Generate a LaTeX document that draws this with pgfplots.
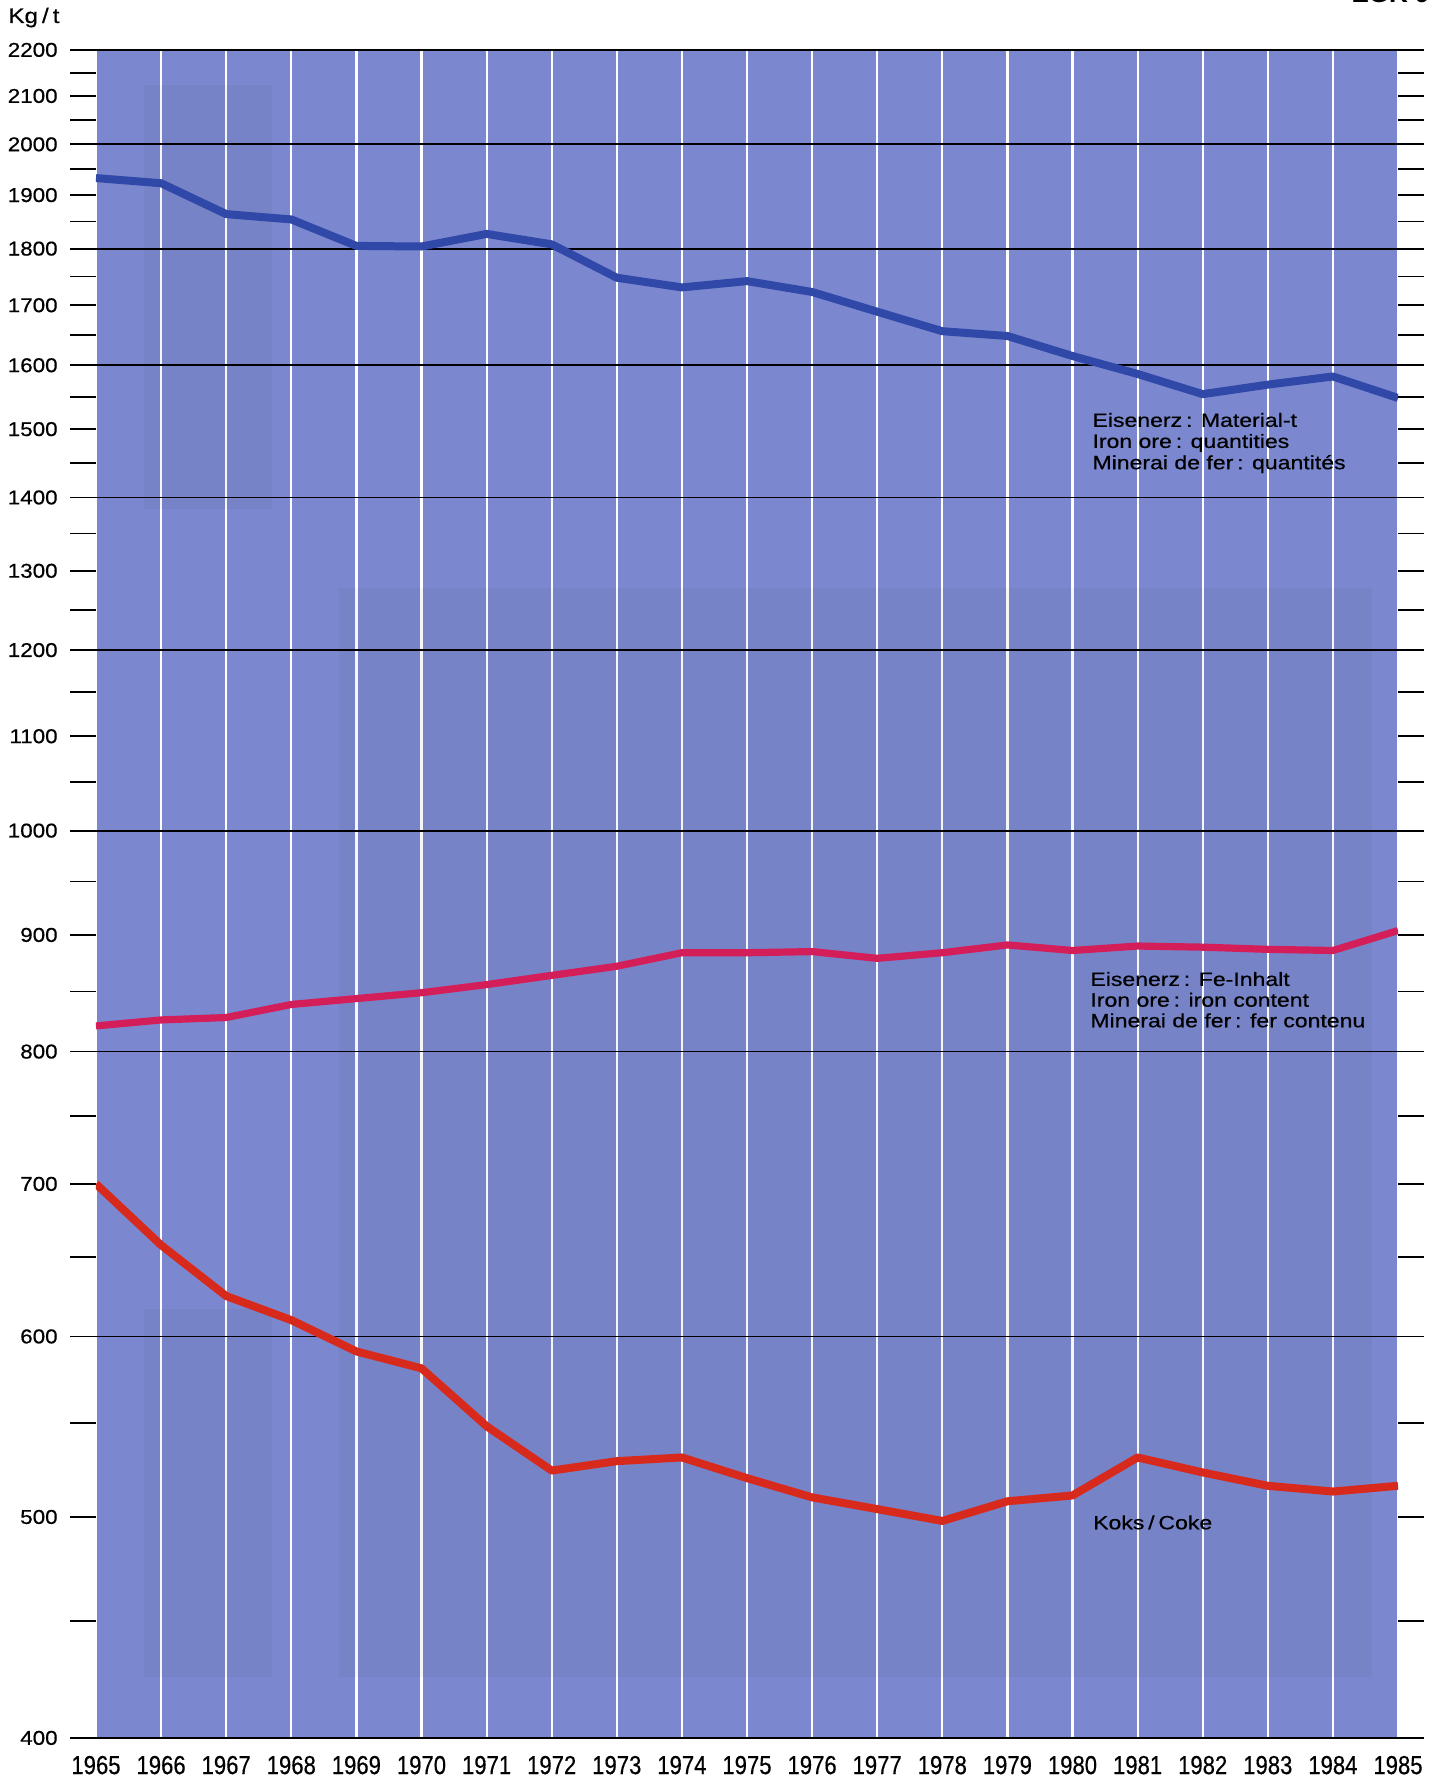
\documentclass[border=0pt]{standalone}
\usepackage{pgfplots}
\pgfplotsset{compat=1.18}
\usepackage{fontspec}
\setmainfont{Liberation Sans}[FakeBold=0.5]
\newfontfamily\labfont{Liberation Sans}[FakeBold=0.5]
\newfontfamily\boldlab{Liberation Sans Bold}
\definecolor{bgblue}{RGB}{123,136,207}
\definecolor{lblue}{RGB}{48,72,168}
\definecolor{lpink}{RGB}{212,30,90}
\definecolor{lred}{RGB}{216,42,28}
\newcommand{\annfont}{\labfont\fontsize{9.6}{9.6}\selectfont}
\begin{document}
\begin{tikzpicture}
\path[use as bounding box] (-48pt,-19.5pt) rectangle (673pt,869pt);
\begin{axis}[
  at={(0,0)}, anchor=south west,
  scale only axis, width=651pt, height=844pt,
  xmin=1965, xmax=1985, ymode=log, ymin=400, ymax=2200,
  axis line style={draw=none},
  axis background/.style={fill=bgblue},
  xtick={1965,1966,1967,1968,1969,1970,1971,1972,1973,1974,1975,1976,1977,1978,1979,1980,1981,1982,1983,1984,1985},
  xticklabels={1965,1966,1967,1968,1969,1970,1971,1972,1973,1974,1975,1976,1977,1978,1979,1980,1981,1982,1983,1984,1985},
  xmajorgrids,
  major x grid style={white, line width=1.1pt},
  xtick style={draw=none},
  ytick={400,450,500,550,600,650,700,750,800,850,900,950,1000,1050,1100,1150,1200,1250,1300,1350,1400,1450,1500,1550,1600,1650,1700,1750,1800,1850,1900,1950,2000,2050,2100,2150,2200},
  yticklabels={400,,500,,600,,700,,800,,900,,1000,,1100,,1200,,1300,,1400,,1500,,1600,,1700,,1800,,1900,,2000,,2100,,2200},
  tick align=outside, major tick length=13pt,
  ytick style={black, line width=0.9pt},
  extra y ticks={400,600,800,1000,1200,1400,1600,1800,2000,2200},
  extra y tick labels={},
  extra y tick style={grid=major},
  major y grid style={black, line width=0.9pt},
  yticklabel style={font=\labfont\fontsize{10}{10}\selectfont, xscale=1.12, xshift=-2pt},
  xticklabel style={font=\labfont\fontsize{13}{13}\selectfont, xscale=0.85, yshift=7.5pt},
  clip=true,
]
% faint show-through shading of the printed page
\fill[black, opacity=0.035] (rel axis cs:0.187,0.036) rectangle (rel axis cs:0.98,0.681);
\fill[black, opacity=0.035] (rel axis cs:0.037,0.728) rectangle (rel axis cs:0.135,0.979);
\fill[black, opacity=0.035] (rel axis cs:0.037,0.036) rectangle (rel axis cs:0.135,0.254);

\addplot[lblue, line width=4pt, line join=round] coordinates {
(1965,1933) (1966,1923) (1967,1864) (1968,1854) (1969,1805) (1970,1804)
(1971,1827) (1972,1808) (1973,1748) (1974,1731) (1975,1742) (1976,1723)
(1977,1689) (1978,1656) (1979,1648) (1980,1615) (1981,1586) (1982,1554)
(1983,1569) (1984,1582) (1985,1548)};
\addplot[lpink, line width=3.6pt, line join=round] coordinates {
(1965,821) (1966,826) (1967,828) (1968,839) (1969,844) (1970,849)
(1971,856) (1972,864) (1973,872) (1974,884) (1975,884) (1976,885)
(1977,879) (1978,884) (1979,891) (1980,886) (1981,890) (1982,889)
(1983,887) (1984,886) (1985,904)};
\addplot[lred, line width=4pt, line join=round] coordinates {
(1965,700) (1966,658) (1967,625) (1968,610) (1969,591) (1970,581)
(1971,548) (1972,524) (1973,529) (1974,531) (1975,520) (1976,510)
(1977,504) (1978,498) (1979,508) (1980,511) (1981,531) (1982,523)
(1983,516) (1984,513) (1985,516)};

\node[anchor=base west, font=\annfont, xscale=1.2, inner sep=0pt] at (rel axis cs:0.765,0.7767) {Eisenerz\,: Material-t};
\node[anchor=base west, font=\annfont, xscale=1.2, inner sep=0pt] at (rel axis cs:0.765,0.7642) {Iron ore\,: quantities};
\node[anchor=base west, font=\annfont, xscale=1.2, inner sep=0pt] at (rel axis cs:0.765,0.7516) {Minerai de fer\,: quantités};

\node[anchor=base west, font=\annfont, xscale=1.2, inner sep=0pt] at (rel axis cs:0.7634,0.4455) {Eisenerz\,: Fe-Inhalt};
\node[anchor=base west, font=\annfont, xscale=1.2, inner sep=0pt] at (rel axis cs:0.7634,0.4332) {Iron ore\,: iron content};
\node[anchor=base west, font=\annfont, xscale=1.2, inner sep=0pt] at (rel axis cs:0.7634,0.4210) {Minerai de fer\,: fer contenu};

\node[anchor=base west, font=\annfont, xscale=1.2, inner sep=0pt] at (rel axis cs:0.7655,0.1236) {Koks\,/\,Coke};
\end{axis}
\node[anchor=base west, font=\labfont\fontsize{10.5}{10.5}\selectfont, xscale=1.15, inner sep=0pt] at (-44pt,857.5pt) {Kg\,/\,t};
\node[anchor=base east, font=\boldlab\fontsize{13}{13}\selectfont, inner sep=0pt] at (667pt,867.5pt) {EGK 9};
\end{tikzpicture}
\end{document}
